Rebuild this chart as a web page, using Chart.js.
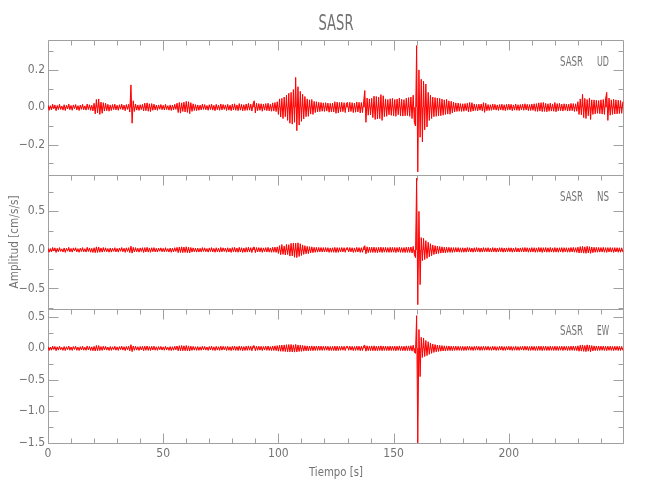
<!DOCTYPE html>
<html lang="es">
<head>
  <meta charset="UTF-8" />
  <title>SASR</title>
  <script src="https://cdn.jsdelivr.net/npm/chart.js@4"></script>
  <style>
    html, body { margin: 0; padding: 0; background: #fff; }
  </style>
</head>
<body>
  <canvas id="seis" width="650" height="500"></canvas>

  <script>
    // Station / components
    const stationName = 'SASR';
    const componentNames = ['UD', 'NS', 'EW'];
    const xTitle = 'Tiempo [s]';
    const yTitle = 'Amplitud [cm/s/s]';

    // samples, one every half second starting at t = 0 (10 s per row)
    const startTime = 0;
    const sampleStep = 0.5;

    const udValues = [
      0.012,-0.016,0.009,-0.014,0.017,-0.008,0.013,-0.018,0.010,-0.012,0.016,-0.011,0.007,-0.015,0.014,-0.017,0.011,-0.009,0.018,-0.013,
      0.010,-0.016,0.013,-0.007,0.015,-0.014,0.009,-0.017,0.012,-0.011,0.016,-0.013,0.008,-0.015,0.018,-0.012,0.014,-0.016,0.011,-0.019,
      0.022,-0.035,0.042,-0.030,0.045,-0.038,0.028,-0.032,0.025,-0.020,0.022,-0.018,0.016,-0.021,0.013,-0.017,0.015,-0.012,0.017,-0.014,
      0.011,-0.016,0.014,-0.010,0.017,-0.013,0.012,-0.018,0.015,-0.011,0.016,-0.025,0.120,-0.085,0.035,-0.022,0.018,-0.015,0.013,-0.017,
      0.014,-0.012,0.016,-0.019,0.022,-0.018,0.024,-0.021,0.019,-0.023,0.020,-0.016,0.017,-0.014,0.012,-0.016,0.013,-0.010,0.015,-0.013,
      0.011,-0.014,0.016,-0.012,0.009,-0.015,0.013,-0.017,0.012,-0.014,0.016,-0.011,0.022,-0.028,0.026,-0.031,0.024,-0.022,0.028,-0.025,
      0.032,-0.027,0.030,-0.034,0.025,-0.022,0.019,-0.017,0.015,-0.018,0.013,-0.016,0.012,-0.014,0.017,-0.011,0.015,-0.013,0.010,-0.016,
      0.014,-0.012,0.017,-0.015,0.011,-0.018,0.016,-0.013,0.012,-0.016,0.018,-0.014,0.015,-0.011,0.013,-0.017,0.016,-0.015,0.012,-0.018,
      0.017,-0.014,0.019,-0.016,0.013,-0.018,0.020,-0.015,0.016,-0.019,0.014,-0.017,0.018,-0.016,0.021,-0.015,0.017,-0.020,0.019,0.035,
      -0.030,0.022,-0.018,0.020,-0.016,0.019,-0.021,0.017,-0.015,0.020,-0.018,0.022,-0.019,0.016,-0.021,0.024,-0.020,0.026,-0.023,0.030,
      -0.038,0.045,-0.052,0.048,-0.060,0.055,-0.050,0.065,-0.070,0.075,-0.085,0.080,-0.090,0.095,-0.080,0.160,-0.125,0.110,-0.095,0.085,
      -0.075,0.070,-0.062,0.058,-0.050,0.045,-0.048,0.040,-0.036,0.042,-0.038,0.032,-0.028,0.030,-0.025,0.027,-0.023,0.026,-0.021,0.024,
      -0.022,0.025,-0.020,0.023,-0.026,0.021,-0.024,0.022,-0.025,0.030,-0.032,0.028,-0.030,0.026,-0.024,0.027,-0.023,0.025,-0.028,0.022,
      0.026,-0.024,0.027,-0.022,0.025,-0.028,0.023,-0.026,0.029,-0.025,0.027,-0.030,0.026,-0.028,0.030,0.090,-0.080,0.050,-0.042,0.045,
      -0.040,0.048,-0.055,0.060,-0.065,0.058,-0.062,0.055,-0.060,0.068,-0.070,0.062,-0.050,0.045,-0.048,0.042,-0.040,0.046,-0.043,0.048,
      -0.045,0.042,-0.048,0.044,-0.040,0.050,-0.046,0.043,-0.047,0.041,-0.045,0.049,-0.044,0.052,-0.048,0.055,-0.060,0.065,-0.080,-0.100,
      0.330,-0.345,0.200,-0.160,0.150,-0.185,0.140,-0.120,0.125,-0.105,0.080,-0.070,0.065,-0.060,0.055,-0.050,0.052,-0.048,0.050,-0.045,
      0.048,-0.045,0.044,-0.042,0.040,-0.038,0.043,-0.036,0.035,-0.037,0.032,-0.030,0.028,-0.025,0.024,-0.022,0.023,-0.021,0.020,-0.022,
      0.019,-0.021,0.020,-0.018,0.022,-0.025,0.026,-0.023,0.025,-0.020,0.018,-0.017,0.016,-0.019,0.017,-0.015,0.018,-0.020,0.025,-0.027,
      0.022,-0.018,0.015,-0.017,0.014,-0.016,0.018,-0.013,0.016,-0.015,0.013,-0.017,0.015,-0.014,0.017,-0.016,0.014,-0.018,0.016,-0.015,
      0.017,-0.014,0.016,-0.018,0.013,-0.015,0.018,-0.016,0.014,-0.017,0.015,-0.013,0.017,-0.016,0.019,-0.014,0.016,-0.018,0.015,-0.017,
      0.018,-0.016,0.019,-0.021,0.020,-0.022,0.024,-0.020,0.025,-0.023,0.026,-0.022,0.021,-0.024,0.019,-0.021,0.022,-0.020,0.018,-0.021,
      0.026,-0.024,0.020,-0.019,0.021,-0.018,0.017,-0.020,0.019,-0.016,0.018,-0.020,0.017,-0.019,0.021,-0.018,0.020,-0.022,0.019,-0.021,
      0.030,-0.038,0.045,-0.040,0.070,-0.055,0.048,-0.060,0.042,-0.045,0.050,-0.065,0.040,-0.038,0.040,-0.035,0.038,-0.032,0.036,-0.034,
      0.040,-0.036,0.042,-0.038,0.045,0.080,-0.070,0.050,-0.042,0.040,-0.038,0.043,-0.036,0.040,-0.035,0.038,-0.033,0.036,-0.032,0.030
    ];

    const nsValues = [
      0.022,-0.030,0.018,-0.026,0.032,-0.015,0.027,-0.033,0.020,-0.024,0.030,-0.019,0.014,-0.028,0.025,-0.032,0.021,-0.017,0.033,-0.026,
      0.019,-0.029,0.026,-0.014,0.028,-0.027,0.017,-0.031,0.023,-0.021,0.030,-0.025,0.016,-0.028,0.034,-0.022,0.026,-0.030,0.020,-0.033,
      0.028,-0.036,0.040,-0.033,0.038,-0.030,0.025,-0.029,0.031,-0.022,0.027,-0.024,0.018,-0.030,0.025,-0.028,0.021,-0.019,0.029,-0.026,
      0.020,-0.029,0.025,-0.018,0.031,-0.024,0.022,-0.032,0.027,-0.020,0.029,-0.035,0.048,-0.042,0.033,-0.027,0.030,-0.024,0.022,-0.029,
      0.026,-0.021,0.029,-0.033,0.030,-0.027,0.034,-0.029,0.025,-0.031,0.028,-0.023,0.030,-0.026,0.021,-0.028,0.024,-0.018,0.027,-0.024,
      0.020,-0.026,0.029,-0.022,0.017,-0.028,0.024,-0.031,0.022,-0.026,0.029,-0.020,0.033,-0.036,0.038,-0.034,0.040,-0.035,0.037,-0.033,
      0.041,-0.036,0.035,-0.039,0.031,-0.028,0.027,-0.025,0.022,-0.029,0.024,-0.028,0.021,-0.026,0.030,-0.020,0.027,-0.024,0.018,-0.029,
      0.026,-0.022,0.030,-0.027,0.020,-0.031,0.028,-0.024,0.022,-0.029,0.032,-0.025,0.027,-0.020,0.024,-0.030,0.028,-0.027,0.022,-0.032,
      0.030,-0.025,0.033,-0.029,0.024,-0.031,0.034,-0.027,0.028,-0.033,0.025,-0.030,0.031,-0.028,0.035,-0.026,0.029,-0.034,0.032,0.037,
      -0.035,0.031,-0.027,0.030,-0.025,0.029,-0.032,0.026,-0.023,0.030,-0.028,0.033,-0.029,0.025,-0.031,0.034,-0.030,0.036,-0.032,0.039,
      -0.045,0.055,-0.062,0.070,-0.058,0.052,-0.066,0.072,-0.060,0.068,-0.080,0.085,-0.078,0.090,-0.095,0.088,-0.100,0.092,-0.085,0.080,
      -0.072,0.065,-0.058,0.055,-0.050,0.046,-0.048,0.042,-0.038,0.040,-0.036,0.034,-0.031,0.033,-0.029,0.032,-0.027,0.031,-0.028,0.030,
      -0.027,0.031,-0.025,0.029,-0.032,0.026,-0.030,0.028,-0.031,0.033,-0.034,0.030,-0.032,0.028,-0.027,0.031,-0.026,0.029,-0.031,0.025,
      0.029,-0.027,0.031,-0.025,0.028,-0.032,0.026,-0.029,0.033,-0.028,0.030,-0.033,0.029,-0.031,0.035,0.055,-0.050,0.040,-0.036,0.034,
      -0.032,0.035,-0.033,0.036,-0.034,0.031,-0.035,0.033,-0.030,0.036,-0.034,0.032,-0.029,0.033,-0.031,0.030,-0.032,0.034,-0.031,0.033,
      -0.030,0.032,-0.034,0.031,-0.029,0.035,-0.032,0.030,-0.033,0.031,-0.034,0.036,-0.032,0.035,-0.033,0.038,-0.040,0.045,-0.060,-0.100,
      0.930,-0.710,0.500,-0.450,0.160,-0.140,0.150,-0.125,0.120,-0.110,0.100,-0.090,0.080,-0.075,0.065,-0.060,0.055,-0.052,0.050,-0.046,
      0.044,-0.041,0.040,-0.038,0.036,-0.039,0.035,-0.033,0.034,-0.032,0.031,-0.033,0.030,-0.029,0.031,-0.028,0.030,-0.029,0.027,-0.030,
      0.028,-0.030,0.026,-0.029,0.031,-0.025,0.029,-0.027,0.024,-0.030,0.028,-0.026,0.031,-0.024,0.027,-0.029,0.025,-0.028,0.030,-0.026,
      0.027,-0.024,0.029,-0.027,0.022,-0.028,0.030,-0.025,0.027,-0.029,0.023,-0.027,0.029,-0.024,0.028,-0.030,0.025,-0.028,0.026,-0.023,
      0.028,-0.025,0.027,-0.030,0.023,-0.026,0.030,-0.027,0.024,-0.028,0.026,-0.023,0.029,-0.027,0.031,-0.025,0.028,-0.030,0.026,-0.029,
      0.030,-0.027,0.029,-0.031,0.026,-0.029,0.032,-0.028,0.030,-0.033,0.029,-0.027,0.031,-0.030,0.027,-0.029,0.032,-0.028,0.026,-0.030,
      0.031,-0.029,0.027,-0.030,0.028,-0.026,0.030,-0.031,0.029,-0.025,0.028,-0.030,0.027,-0.029,0.031,-0.028,0.033,-0.030,0.029,-0.032,
      0.036,-0.040,0.043,-0.038,0.045,-0.042,0.040,-0.044,0.047,-0.039,0.042,-0.045,0.038,-0.036,0.034,-0.031,0.033,-0.030,0.032,-0.029,
      0.031,-0.028,0.033,-0.030,0.029,-0.032,0.030,-0.027,0.031,-0.029,0.028,-0.032,0.030,-0.027,0.029,-0.031,0.028,-0.030,0.027,-0.029
    ];

    const ewValues = [
      0.026,-0.034,0.021,-0.030,0.036,-0.018,0.031,-0.037,0.024,-0.028,0.034,-0.022,0.017,-0.032,0.029,-0.036,0.025,-0.020,0.037,-0.030,
      0.022,-0.033,0.030,-0.017,0.032,-0.031,0.020,-0.035,0.027,-0.025,0.034,-0.029,0.019,-0.032,0.038,-0.026,0.030,-0.034,0.024,-0.037,
      0.032,-0.042,0.046,-0.038,0.044,-0.035,0.029,-0.033,0.035,-0.026,0.031,-0.028,0.021,-0.034,0.029,-0.032,0.025,-0.022,0.033,-0.030,
      0.024,-0.033,0.029,-0.021,0.035,-0.028,0.026,-0.036,0.031,-0.024,0.033,-0.040,0.058,-0.052,0.038,-0.031,0.034,-0.028,0.026,-0.033,
      0.030,-0.025,0.033,-0.037,0.034,-0.031,0.038,-0.033,0.029,-0.035,0.032,-0.027,0.034,-0.030,0.025,-0.032,0.028,-0.022,0.031,-0.028,
      0.024,-0.030,0.033,-0.026,0.020,-0.032,0.028,-0.035,0.026,-0.030,0.033,-0.024,0.037,-0.040,0.042,-0.038,0.044,-0.039,0.041,-0.037,
      0.045,-0.040,0.039,-0.043,0.035,-0.032,0.031,-0.029,0.026,-0.033,0.028,-0.032,0.025,-0.030,0.034,-0.024,0.031,-0.028,0.022,-0.033,
      0.030,-0.026,0.034,-0.031,0.024,-0.035,0.032,-0.028,0.026,-0.033,0.036,-0.029,0.031,-0.024,0.028,-0.034,0.032,-0.031,0.026,-0.036,
      0.034,-0.029,0.037,-0.033,0.028,-0.035,0.038,-0.031,0.032,-0.037,0.029,-0.034,0.035,-0.032,0.039,-0.030,0.033,-0.038,0.036,0.041,
      -0.039,0.035,-0.031,0.034,-0.029,0.033,-0.036,0.030,-0.027,0.034,-0.032,0.037,-0.033,0.029,-0.035,0.038,-0.034,0.040,-0.036,0.043,
      -0.045,0.050,-0.047,0.053,-0.049,0.055,-0.052,0.058,-0.054,0.060,-0.056,0.062,-0.058,0.055,-0.060,0.063,-0.057,0.054,-0.050,0.052,
      -0.048,0.046,-0.044,0.042,-0.040,0.039,-0.041,0.038,-0.036,0.039,-0.037,0.036,-0.034,0.037,-0.033,0.036,-0.032,0.035,-0.033,0.034,
      -0.031,0.035,-0.029,0.033,-0.036,0.030,-0.034,0.032,-0.035,0.037,-0.038,0.034,-0.036,0.032,-0.031,0.035,-0.030,0.033,-0.035,0.029,
      0.033,-0.031,0.035,-0.029,0.032,-0.036,0.030,-0.033,0.037,-0.032,0.034,-0.037,0.033,-0.035,0.039,0.050,-0.045,0.040,-0.037,0.038,
      -0.036,0.039,-0.037,0.040,-0.038,0.035,-0.039,0.037,-0.034,0.040,-0.038,0.036,-0.033,0.037,-0.035,0.034,-0.036,0.038,-0.035,0.037,
      -0.034,0.036,-0.038,0.035,-0.033,0.039,-0.036,0.034,-0.037,0.035,-0.038,0.040,-0.036,0.039,-0.037,0.042,-0.044,0.050,-0.060,-0.080,
      0.520,-1.500,0.300,-0.450,0.175,-0.145,0.165,-0.130,0.125,-0.115,0.105,-0.095,0.085,-0.080,0.070,-0.065,0.060,-0.056,0.053,-0.050,
      0.048,-0.045,0.044,-0.042,0.040,-0.043,0.039,-0.037,0.038,-0.036,0.035,-0.037,0.034,-0.033,0.035,-0.032,0.034,-0.033,0.031,-0.034,
      0.032,-0.034,0.030,-0.033,0.035,-0.029,0.033,-0.031,0.028,-0.034,0.032,-0.030,0.035,-0.028,0.031,-0.033,0.029,-0.032,0.034,-0.030,
      0.031,-0.028,0.033,-0.031,0.026,-0.032,0.034,-0.029,0.031,-0.033,0.027,-0.031,0.033,-0.028,0.032,-0.034,0.029,-0.032,0.030,-0.027,
      0.032,-0.029,0.031,-0.034,0.027,-0.030,0.034,-0.031,0.028,-0.032,0.030,-0.027,0.033,-0.031,0.035,-0.029,0.032,-0.034,0.030,-0.033,
      0.034,-0.031,0.033,-0.035,0.030,-0.033,0.036,-0.032,0.034,-0.037,0.033,-0.031,0.035,-0.034,0.031,-0.033,0.036,-0.032,0.030,-0.034,
      0.035,-0.033,0.031,-0.034,0.032,-0.030,0.034,-0.035,0.033,-0.029,0.032,-0.034,0.031,-0.033,0.035,-0.032,0.037,-0.034,0.033,-0.036,
      0.040,-0.046,0.050,-0.044,0.054,-0.048,0.046,-0.052,0.056,-0.045,0.050,-0.054,0.044,-0.041,0.039,-0.036,0.038,-0.034,0.037,-0.033,
      0.035,-0.032,0.037,-0.034,0.033,-0.036,0.034,-0.031,0.035,-0.033,0.032,-0.036,0.034,-0.031,0.033,-0.035,0.032,-0.034,0.031,-0.033
    ];

    // axis ranges and tick steps
    const timeMin = 0, timeMax = 250, timeMajor = 50, timeMinor = 10;
    const panels = [
      { id: 'y1', values: udValues, min: -0.36, max: 0.36, major: 0.2, minor: 0.1 },
      { id: 'y2', values: nsValues, min: -0.77, max: 0.975, major: 0.5, minor: 0.25 },
      { id: 'y3', values: ewValues, min: -1.52, max: 0.62, major: 0.5, minor: 0.25 }
    ];

    const axisColor = '#a0a0a0';
    const textColor = '#737373';
    const fontFamily = "'Liberation Sans Narrow', 'DejaVu Sans Condensed', 'Liberation Sans', sans-serif";

    Chart.defaults.font.family = fontFamily;
    Chart.defaults.color = textColor;

    function fmtTick(v) {
      if (Math.abs(v) < 1e-9) return '0.0';
      return v.toFixed(1).replace('-', '\u2212');
    }

    // squeeze text horizontally so it takes a given width (plotter font is very narrow)
    function fitText(ctx, text, x, y, width, align) {
      const k = width / ctx.measureText(text).width;
      ctx.save();
      ctx.translate(x, y);
      ctx.scale(k, 1);
      ctx.textAlign = align;
      ctx.fillText(text, 0, 0);
      ctx.restore();
    }

    // box + inward ticks for every panel
    const framePlugin = {
      id: 'frame',
      beforeDatasetsDraw(chart) {
        const { ctx, chartArea, scales } = chart;
        const xs = scales.x;
        const left = Math.round(chartArea.left) + 0.5;
        const right = Math.round(chartArea.right) - 0.5;
        ctx.save();
        ctx.strokeStyle = axisColor;
        ctx.lineWidth = 1;
        ctx.beginPath();
        panels.forEach((p, i) => {
          const ys = scales[p.id];
          const top = Math.round(ys.top) + 0.5;
          const bottom = Math.round(ys.bottom) + (i === panels.length - 1 ? -0.5 : 0.5);
          ctx.rect(left, top, right - left, bottom - top);
          for (let t = timeMin; t < timeMax; t += timeMinor) {
            const px = Math.round(xs.getPixelForValue(t)) + 0.5;
            const len = t % timeMajor === 0 ? 10 : 5;
            ctx.moveTo(px, top);
            ctx.lineTo(px, top + len);
            if (i === panels.length - 1) {
              ctx.moveTo(px, bottom);
              ctx.lineTo(px, bottom - len);
            }
          }
          const first = Math.ceil(p.min / p.minor - 1e-9);
          for (let k = first; k * p.minor <= p.max + 1e-9; k++) {
            const v = k * p.minor;
            const py = Math.round(ys.getPixelForValue(v)) + 0.5;
            const r = v / p.major;
            const len = Math.abs(r - Math.round(r)) < 1e-6 ? 10 : 5;
            ctx.moveTo(left, py);
            ctx.lineTo(left + len, py);
            ctx.moveTo(right, py);
            ctx.lineTo(right - len, py);
          }
        });
        ctx.stroke();
        ctx.restore();
      },
      afterDraw(chart) {
        const { ctx, chartArea, scales } = chart;
        ctx.save();
        ctx.fillStyle = textColor;
        ctx.textBaseline = 'alphabetic';

        ctx.font = '21px ' + fontFamily;
        fitText(ctx, stationName, (chartArea.left + chartArea.right) / 2, 30, 35, 'center');

        ctx.font = '14px ' + fontFamily;
        panels.forEach((p, i) => {
          const ys = scales[p.id];
          const base = ys.top + 26;
          fitText(ctx, stationName, 560, base, 23, 'left');
          fitText(ctx, componentNames[i], 609, base, 12, 'right');
        });

        ctx.font = '13px ' + fontFamily;
        fitText(ctx, xTitle, (chartArea.left + chartArea.right) / 2, 476, 54, 'center');

        ctx.translate(18, (scales.y2.top + scales.y2.bottom) / 2);
        ctx.rotate(-Math.PI / 2);
        fitText(ctx, yTitle, 0, 0, 93, 'center');
        ctx.restore();
      }
    };

    const scales = {
      x: {
        type: 'linear',
        min: timeMin,
        max: timeMax,
        grid: { display: false, drawTicks: false },
        border: { display: false },
        ticks: {
          stepSize: timeMajor,
          padding: 3,
          maxRotation: 0,
          font: { size: 12 },
          callback: v => (v === timeMax ? '' : String(v))
        },
        afterFit: s => { s.height = 56; }
      }
    };
    // left stack: the last one declared ends up on top
    [...panels].reverse().forEach(p => {
      scales[p.id] = {
        type: 'linear',
        position: 'left',
        stack: 'seis',
        stackWeight: 1,
        min: p.min,
        max: p.max,
        grid: { display: false, drawTicks: false },
        border: { display: false },
        ticks: {
          stepSize: p.major,
          includeBounds: false,
          padding: 3,
          font: { size: 12 },
          callback: fmtTick
        },
        afterFit: s => { s.width = 48; }
      };
    });

    // trace filled to its own zero line so the record reads as a solid band
    const datasets = panels.map(p => ({
      data: p.values.map((v, i) => ({ x: startTime + i * sampleStep, y: v })),
      yAxisID: p.id,
      xAxisID: 'x',
      borderColor: '#ff0000',
      backgroundColor: 'rgba(255, 0, 0, 0.85)',
      fill: 'origin',
      borderWidth: 1,
      borderJoinStyle: 'bevel',
      pointRadius: 0,
      tension: 0
    }));

    new Chart(document.getElementById('seis').getContext('2d'), {
      type: 'line',
      data: { datasets },
      options: {
        responsive: false,
        animation: false,
        normalized: true,
        layout: { padding: { top: 40, right: 26, bottom: 0, left: 0 } },
        plugins: {
          legend: { display: false },
          title: { display: false },
          tooltip: { enabled: false }
        },
        scales
      },
      plugins: [framePlugin]
    });
  </script>
</body>
</html>
